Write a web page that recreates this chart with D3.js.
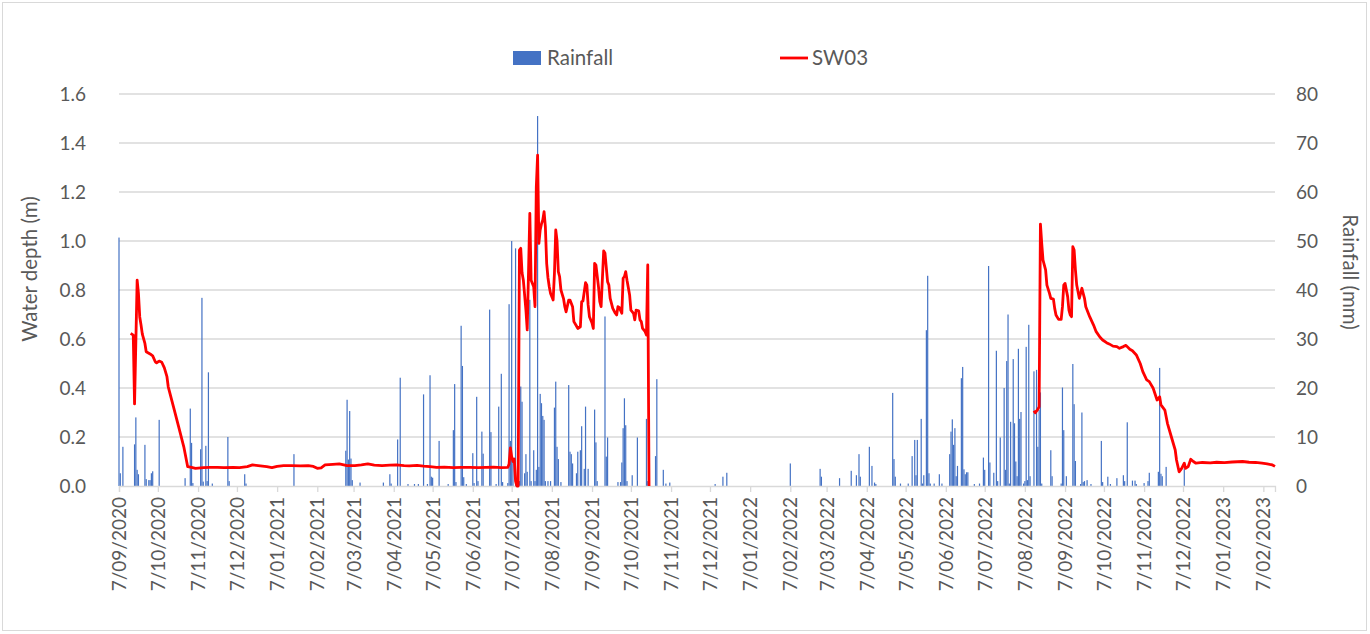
<!DOCTYPE html>
<html>
<head>
<meta charset="utf-8">
<script src="https://cdn.jsdelivr.net/npm/d3@7"></script>
<style>
  body { margin: 0; background: #fff; }
  text { font-family: Lato, "Open Sans", sans-serif; fill: #595959; }
</style>
</head>
<body>
<svg id="chart" width="1370" height="634"></svg>
<script>
// daily rainfall (mm), only days with rain
const rainfall = [
  ["2020-09-07", 50.7], ["2020-09-08", 2.6], ["2020-09-10", 8], ["2020-09-19", 8.5], ["2020-09-20", 14],
  ["2020-09-21", 3.3], ["2020-09-22", 2.4], ["2020-09-27", 8.4], ["2020-09-28", 1.4], ["2020-09-30", 1.2],
  ["2020-10-01", 1.2], ["2020-10-02", 2.6], ["2020-10-03", 3], ["2020-10-08", 13.5], ["2020-10-28", 1.6],
  ["2020-11-01", 15.8], ["2020-11-02", 8.8], ["2020-11-03", 0.6], ["2020-11-09", 7.5], ["2020-11-10", 38.4],
  ["2020-11-11", 0.9], ["2020-11-13", 8.2], ["2020-11-14", 1], ["2020-11-15", 23.2], ["2020-11-18", 0.5],
  ["2020-11-30", 10], ["2020-12-01", 1], ["2020-12-13", 2.4], ["2020-12-14", 0.5],
  ["2021-01-20", 6.5],
  ["2021-03-01", 7.2], ["2021-03-02", 17.6], ["2021-03-03", 5.4], ["2021-03-04", 15.3], ["2021-03-05", 5.6],
  ["2021-03-06", 1.2], ["2021-03-12", 0.7], ["2021-03-30", 0.7],
  ["2021-04-04", 2.4], ["2021-04-05", 0.5], ["2021-04-10", 9.5], ["2021-04-12", 22.1], ["2021-04-18", 0.4],
  ["2021-04-23", 0.4], ["2021-04-26", 0.4], ["2021-04-30", 18.7],
  ["2021-05-03", 0.4], ["2021-05-05", 22.6], ["2021-05-06", 1.9], ["2021-05-07", 1.7], ["2021-05-12", 9.2],
  ["2021-05-19", 0.4], ["2021-05-23", 11.4], ["2021-05-24", 20.8], ["2021-05-25", 0.8], ["2021-05-29", 32.7],
  ["2021-05-30", 24.5], ["2021-05-31", 1.8],
  ["2021-06-02", 0.4], ["2021-06-07", 6.7], ["2021-06-08", 0.6], ["2021-06-10", 18.2], ["2021-06-11", 1],
  ["2021-06-14", 11.1], ["2021-06-15", 6.6], ["2021-06-20", 36], ["2021-06-21", 11], ["2021-06-25", 0.4],
  ["2021-06-27", 16.2], ["2021-06-29", 22.9], ["2021-06-30", 0.8],
  ["2021-07-04", 0.6], ["2021-07-05", 37.1], ["2021-07-06", 9.2], ["2021-07-07", 50], ["2021-07-08", 5.3],
  ["2021-07-10", 48.5], ["2021-07-12", 1.9], ["2021-07-13", 1], ["2021-07-14", 20.3], ["2021-07-15", 17.2],
  ["2021-07-17", 2.6], ["2021-07-18", 6.5], ["2021-07-19", 2.9], ["2021-07-21", 38], ["2021-07-22", 1],
  ["2021-07-24", 7.3], ["2021-07-25", 1], ["2021-07-26", 3.3], ["2021-07-27", 75.5], ["2021-07-28", 3.9],
  ["2021-07-29", 18.8], ["2021-07-30", 16.9], ["2021-07-31", 14.3],
  ["2021-08-01", 13.5], ["2021-08-02", 1], ["2021-08-04", 1], ["2021-08-06", 1], ["2021-08-09", 16],
  ["2021-08-10", 21.3], ["2021-08-11", 8], ["2021-08-12", 5.5], ["2021-08-14", 0.8], ["2021-08-20", 20.6],
  ["2021-08-21", 7], ["2021-08-22", 6.5], ["2021-08-23", 4.6], ["2021-08-26", 2.6], ["2021-08-27", 7],
  ["2021-08-29", 7.3], ["2021-08-30", 12.2],
  ["2021-09-01", 3.5], ["2021-09-02", 16.2], ["2021-09-04", 3.5], ["2021-09-09", 15.6], ["2021-09-10", 8.9],
  ["2021-09-11", 1], ["2021-09-17", 34.6], ["2021-09-18", 6], ["2021-09-19", 9.9], ["2021-09-27", 0.8],
  ["2021-09-29", 0.8], ["2021-09-30", 4.8],
  ["2021-10-01", 11.8], ["2021-10-02", 17.9], ["2021-10-03", 12.4], ["2021-10-04", 1], ["2021-10-08", 2.2],
  ["2021-10-12", 9.9], ["2021-10-19", 13.7], ["2021-10-20", 1], ["2021-10-26", 6.1], ["2021-10-27", 21.8],
  ["2021-11-01", 3.3], ["2021-11-03", 0.5], ["2021-11-06", 0.7],
  ["2021-12-11", 0.4], ["2021-12-17", 1.9], ["2021-12-20", 2.7],
  ["2022-02-07", 4.6],
  ["2022-03-02", 3.5], ["2022-03-03", 1.9], ["2022-03-17", 1.6], ["2022-03-26", 3.1], ["2022-03-30", 2.2],
  ["2022-04-01", 6.5], ["2022-04-02", 1.9], ["2022-04-09", 8], ["2022-04-11", 4.1], ["2022-04-13", 0.7],
  ["2022-04-14", 0.4], ["2022-04-27", 19], ["2022-04-28", 5.5], ["2022-04-29", 1.9],
  ["2022-05-03", 0.5], ["2022-05-09", 0.5], ["2022-05-12", 6.1], ["2022-05-14", 9.4], ["2022-05-15", 2.2],
  ["2022-05-16", 9.4], ["2022-05-19", 13.7], ["2022-05-20", 0.5], ["2022-05-21", 2.2], ["2022-05-23", 31.8],
  ["2022-05-24", 42.9], ["2022-05-25", 2.6], ["2022-05-26", 0.5], ["2022-05-29", 0.5],
  ["2022-06-02", 2.4], ["2022-06-04", 0.5], ["2022-06-10", 6.5], ["2022-06-11", 11.1], ["2022-06-12", 13.6],
  ["2022-06-13", 8.4], ["2022-06-14", 11.8], ["2022-06-15", 2], ["2022-06-16", 4.1], ["2022-06-19", 22],
  ["2022-06-20", 24.3], ["2022-06-21", 3.4], ["2022-06-22", 2.4], ["2022-06-23", 2.8], ["2022-06-24", 2.8],
  ["2022-06-29", 0.4],
  ["2022-07-03", 0.5], ["2022-07-06", 5.8], ["2022-07-07", 3.3], ["2022-07-10", 44.9], ["2022-07-11", 4.8],
  ["2022-07-14", 2.7], ["2022-07-16", 27.6], ["2022-07-17", 1], ["2022-07-19", 9.9], ["2022-07-22", 20],
  ["2022-07-23", 3.3], ["2022-07-24", 25.5], ["2022-07-25", 35], ["2022-07-26", 0.5], ["2022-07-27", 13.1],
  ["2022-07-29", 25.9], ["2022-07-30", 12.8], ["2022-07-31", 5],
  ["2022-08-01", 2], ["2022-08-02", 28], ["2022-08-03", 13.7], ["2022-08-04", 15.1], ["2022-08-06", 0.5],
  ["2022-08-07", 1], ["2022-08-08", 28.4], ["2022-08-09", 1.2], ["2022-08-10", 32.9], ["2022-08-11", 2],
  ["2022-08-14", 23.4], ["2022-08-16", 23.7], ["2022-08-17", 8], ["2022-08-18", 15.5], ["2022-08-19", 19.1],
  ["2022-08-20", 0.5], ["2022-08-27", 7.3], ["2022-08-28", 2],
  ["2022-09-04", 0.5], ["2022-09-05", 20.1], ["2022-09-06", 11.4], ["2022-09-08", 2], ["2022-09-13", 24.9],
  ["2022-09-14", 16.7], ["2022-09-15", 5.1], ["2022-09-19", 0.4], ["2022-09-20", 15], ["2022-09-21", 0.8],
  ["2022-09-22", 1], ["2022-09-24", 1.2], ["2022-09-27", 0.4],
  ["2022-10-05", 9.2], ["2022-10-06", 0.8], ["2022-10-10", 1.9], ["2022-10-12", 0.4], ["2022-10-17", 1.6],
  ["2022-10-22", 2.2], ["2022-10-23", 1], ["2022-10-25", 13], ["2022-10-29", 1.1], ["2022-10-31", 1.1],
  ["2022-11-01", 0.4], ["2022-11-07", 0.6], ["2022-11-10", 1], ["2022-11-11", 2.7], ["2022-11-18", 2.9],
  ["2022-11-19", 24.1], ["2022-11-20", 2.5], ["2022-11-21", 2], ["2022-11-24", 3.9],
  ["2022-12-08", 3.6]
];

// SW03 water depth (m); null marks the logger gap
const sw03 = [
  ["2020-09-16", 0.623], ["2020-09-18", 0.616], ["2020-09-19", 0.335], ["2020-09-21", 0.84], ["2020-09-22", 0.786],
  ["2020-09-23", 0.69], ["2020-09-24", 0.657], ["2020-09-25", 0.62], ["2020-09-27", 0.582], ["2020-09-28", 0.548],
  ["2020-10-01", 0.539], ["2020-10-03", 0.531], ["2020-10-05", 0.507], ["2020-10-06", 0.503], ["2020-10-08", 0.51],
  ["2020-10-10", 0.505], ["2020-10-12", 0.482], ["2020-10-14", 0.446], ["2020-10-15", 0.405], ["2020-10-19", 0.324],
  ["2020-10-23", 0.242], ["2020-10-27", 0.16], ["2020-10-30", 0.079], ["2020-11-02", 0.076], ["2020-11-05", 0.072],
  ["2020-11-11", 0.075], ["2020-11-16", 0.076], ["2020-11-22", 0.076], ["2020-11-27", 0.075], ["2020-12-04", 0.076],
  ["2020-12-09", 0.075], ["2020-12-15", 0.079], ["2020-12-19", 0.086], ["2020-12-25", 0.082], ["2020-12-30", 0.079],
  ["2021-01-03", 0.075], ["2021-01-07", 0.08], ["2021-01-12", 0.083], ["2021-01-18", 0.083], ["2021-01-25", 0.082],
  ["2021-01-31", 0.083], ["2021-02-04", 0.08], ["2021-02-07", 0.072], ["2021-02-10", 0.074], ["2021-02-13", 0.086],
  ["2021-02-19", 0.088], ["2021-02-24", 0.09], ["2021-03-02", 0.083], ["2021-03-08", 0.083], ["2021-03-13", 0.086],
  ["2021-03-18", 0.09], ["2021-03-23", 0.085], ["2021-03-29", 0.083], ["2021-04-04", 0.085], ["2021-04-09", 0.086],
  ["2021-04-15", 0.083], ["2021-04-19", 0.082], ["2021-04-25", 0.084], ["2021-04-30", 0.081], ["2021-05-05", 0.079],
  ["2021-05-10", 0.076], ["2021-05-16", 0.077], ["2021-05-23", 0.075], ["2021-05-29", 0.076], ["2021-06-05", 0.076],
  ["2021-06-11", 0.075], ["2021-06-17", 0.076], ["2021-06-23", 0.077], ["2021-06-29", 0.075], ["2021-07-04", 0.076],
  ["2021-07-05", 0.09], ["2021-07-06", 0.156], ["2021-07-07", 0.12], ["2021-07-08", 0.1], ["2021-07-09", 0.11],
  ["2021-07-10", 0.02], ["2021-07-11", 0], ["2021-07-12", 0], ["2021-07-13", 0.963], ["2021-07-14", 0.97],
  ["2021-07-15", 0.87], ["2021-07-16", 0.84], ["2021-07-18", 0.718], ["2021-07-19", 0.637], ["2021-07-21", 1.113],
  ["2021-07-22", 0.84], ["2021-07-24", 0.813], ["2021-07-25", 0.732], ["2021-07-26", 1.22], ["2021-07-27", 1.35],
  ["2021-07-28", 0.99], ["2021-07-29", 1.045], ["2021-07-30", 1.07], ["2021-07-31", 1.086], ["2021-08-01", 1.12],
  ["2021-08-02", 1.058], ["2021-08-03", 0.909], ["2021-08-04", 0.85], ["2021-08-05", 0.813], ["2021-08-06", 0.786],
  ["2021-08-08", 0.759], ["2021-08-09", 0.868], ["2021-08-10", 1.045], ["2021-08-11", 1.0], ["2021-08-12", 0.875],
  ["2021-08-13", 0.854], ["2021-08-14", 0.8], ["2021-08-16", 0.765], ["2021-08-17", 0.732], ["2021-08-18", 0.711],
  ["2021-08-20", 0.759], ["2021-08-21", 0.759], ["2021-08-23", 0.732], ["2021-08-24", 0.671], ["2021-08-26", 0.653],
  ["2021-08-27", 0.643], ["2021-08-29", 0.65], ["2021-08-30", 0.752], ["2021-08-31", 0.755], ["2021-09-02", 0.83],
  ["2021-09-03", 0.82], ["2021-09-04", 0.739], ["2021-09-05", 0.691], ["2021-09-07", 0.665], ["2021-09-08", 0.643],
  ["2021-09-09", 0.909], ["2021-09-10", 0.902], ["2021-09-12", 0.813], ["2021-09-13", 0.752], ["2021-09-14", 0.732],
  ["2021-09-16", 0.96], ["2021-09-17", 0.95], ["2021-09-19", 0.834], ["2021-09-20", 0.82], ["2021-09-21", 0.766],
  ["2021-09-23", 0.725], ["2021-09-25", 0.705], ["2021-09-26", 0.698], ["2021-09-27", 0.732], ["2021-09-28", 0.729],
  ["2021-09-30", 0.705], ["2021-10-01", 0.848], ["2021-10-02", 0.855], ["2021-10-03", 0.875], ["2021-10-04", 0.84],
  ["2021-10-06", 0.78], ["2021-10-07", 0.718], ["2021-10-09", 0.705], ["2021-10-10", 0.678], ["2021-10-11", 0.718],
  ["2021-10-13", 0.715], ["2021-10-14", 0.678], ["2021-10-15", 0.671], ["2021-10-16", 0.643], ["2021-10-18", 0.63],
  ["2021-10-19", 0.616], ["2021-10-20", 0.902], ["2021-10-21", 0],
  ["2021-10-22", null],
  ["2022-08-14", 0.307], ["2022-08-15", 0.299], ["2022-08-17", 0.313], ["2022-08-18", 0.324], ["2022-08-19", 1.069],
  ["2022-08-20", 0.99], ["2022-08-21", 0.922], ["2022-08-23", 0.882], ["2022-08-24", 0.82], ["2022-08-26", 0.786],
  ["2022-08-27", 0.766], ["2022-08-29", 0.763], ["2022-08-30", 0.725], ["2022-08-31", 0.698], ["2022-09-02", 0.68],
  ["2022-09-04", 0.68], ["2022-09-05", 0.732], ["2022-09-06", 0.82], ["2022-09-07", 0.827], ["2022-09-09", 0.773],
  ["2022-09-10", 0.718], ["2022-09-11", 0.698], ["2022-09-12", 0.691], ["2022-09-13", 0.977], ["2022-09-14", 0.963],
  ["2022-09-15", 0.882], ["2022-09-16", 0.82], ["2022-09-18", 0.766], ["2022-09-19", 0.786], ["2022-09-20", 0.807],
  ["2022-09-22", 0.766], ["2022-09-23", 0.732], ["2022-09-26", 0.691], ["2022-09-29", 0.657], ["2022-10-01", 0.63],
  ["2022-10-04", 0.607], ["2022-10-06", 0.596], ["2022-10-09", 0.585], ["2022-10-11", 0.58], ["2022-10-14", 0.571],
  ["2022-10-17", 0.569], ["2022-10-19", 0.562], ["2022-10-22", 0.569], ["2022-10-24", 0.574], ["2022-10-27", 0.558],
  ["2022-10-29", 0.552], ["2022-11-01", 0.535], ["2022-11-04", 0.5], ["2022-11-06", 0.467], ["2022-11-09", 0.433],
  ["2022-11-11", 0.426], ["2022-11-14", 0.399], ["2022-11-17", 0.351], ["2022-11-19", 0.364], ["2022-11-20", 0.331],
  ["2022-11-23", 0.31], ["2022-11-25", 0.256], ["2022-11-28", 0.201], ["2022-12-01", 0.147], ["2022-12-02", 0.106],
  ["2022-12-04", 0.058], ["2022-12-06", 0.072], ["2022-12-08", 0.093], ["2022-12-09", 0.072], ["2022-12-11", 0.079],
  ["2022-12-13", 0.109], ["2022-12-15", 0.1], ["2022-12-17", 0.093], ["2022-12-22", 0.096], ["2022-12-28", 0.094],
  ["2023-01-02", 0.097], ["2023-01-08", 0.095], ["2023-01-14", 0.098], ["2023-01-22", 0.1], ["2023-01-27", 0.097],
  ["2023-02-01", 0.096], ["2023-02-06", 0.093], ["2023-02-10", 0.09], ["2023-02-14", 0.086], ["2023-02-16", 0.08]
];

const depthTicks = [0, 0.2, 0.4, 0.6, 0.8, 1.0, 1.2, 1.4, 1.6];
const rainTicks = [0, 10, 20, 30, 40, 50, 60, 70, 80];
const dateRange = ["2020-09-07", "2023-02-16"];
const seriesNames = ["Rainfall", "SW03"];
const axisTitles = ["Water depth (m)", "Rainfall (mm)"];

const parse = d3.utcParse("%Y-%m-%d");
const plotLeft = 119, plotRight = 1275, plotTop = 94, plotBottom = 486;
const fontSize = 19;
const titleSize = 20.5;

const svg = d3.select("#chart");

// chart area border
svg.append("rect")
  .attr("x", 2.5).attr("y", 2.5).attr("width", 1364).attr("height", 628)
  .attr("fill", "#fff").attr("stroke", "#d9d9d9");

const x = d3.scaleUtc().domain(dateRange.map(parse)).range([plotLeft, plotRight]);
const yL = d3.scaleLinear().domain([0, 1.6]).range([plotBottom, plotTop]);
const yR = d3.scaleLinear().domain([0, 80]).range([plotBottom, plotTop]);

// ticks on the 7th of every month
const monthTicks = d3.utcMonth.range(parse("2020-09-01"), parse("2023-02-02"))
  .map(d => d3.utcDay.offset(d, 6));

// gridlines
svg.append("g")
  .selectAll("line")
  .data(depthTicks.slice(1))
  .join("line")
  .attr("x1", plotLeft).attr("x2", plotRight)
  .attr("y1", d => yL(d)).attr("y2", d => yL(d))
  .attr("stroke", "#d9d9d9").attr("stroke-width", 1.3);

// rainfall bars
svg.append("g")
  .selectAll("rect")
  .data(rainfall)
  .join("rect")
  .attr("x", d => x(parse(d[0])) - 0.6)
  .attr("width", 1.2)
  .attr("y", d => yR(d[1]))
  .attr("height", d => plotBottom - yR(d[1]))
  .attr("fill", "#4472C4");

// x axis
const xAxis = svg.append("g")
  .attr("transform", `translate(0,${plotBottom})`)
  .call(d3.axisBottom(x).tickValues(monthTicks).tickSize(6).tickFormat(d3.utcFormat("%-d/%m/%Y")));
xAxis.select(".domain").attr("stroke", "#d9d9d9").attr("stroke-width", 1.3);
xAxis.selectAll(".tick line").attr("stroke", "#d9d9d9").attr("stroke-width", 1.3);
xAxis.selectAll(".tick text")
  .attr("transform", "rotate(-90)")
  .attr("x", -11).attr("y", 0).attr("dy", "0.35em")
  .style("text-anchor", "end")
  .style("font-size", fontSize + "px")
  .attr("fill", "#595959");

// left axis
const yAxisL = svg.append("g")
  .attr("transform", `translate(${plotLeft},0)`)
  .call(d3.axisLeft(yL).tickValues(depthTicks).tickSize(0).tickPadding(33).tickFormat(d3.format(".1f")));
yAxisL.select(".domain").remove();
yAxisL.selectAll("text").style("font-size", fontSize + "px").attr("fill", "#595959");

// right axis
const yAxisR = svg.append("g")
  .attr("transform", `translate(${plotRight},0)`)
  .call(d3.axisRight(yR).tickValues(rainTicks).tickSize(0).tickPadding(21));
yAxisR.select(".domain").remove();
yAxisR.selectAll("text").style("font-size", fontSize + "px").attr("fill", "#595959");

// SW03 line
const line = d3.line()
  .defined(d => d[1] !== null)
  .x(d => x(parse(d[0])))
  .y(d => yL(d[1]));

svg.append("path")
  .datum(sw03)
  .attr("d", line)
  .attr("fill", "none")
  .attr("stroke", "#FF0000")
  .attr("stroke-width", 2.8)
  .attr("stroke-linejoin", "round");

// axis titles
svg.append("text")
  .attr("transform", "translate(30,269) rotate(-90)")
  .attr("text-anchor", "middle").attr("dy", "0.35em")
  .style("font-size", titleSize + "px")
  .text(axisTitles[0]);
svg.append("text")
  .attr("transform", "translate(1350,272) rotate(90)")
  .attr("text-anchor", "middle").attr("dy", "0.35em")
  .style("font-size", titleSize + "px")
  .text(axisTitles[1]);

// legend
const legend = svg.append("g");
legend.append("rect")
  .attr("x", 513).attr("y", 51).attr("width", 28).attr("height", 14)
  .attr("fill", "#4472C4");
legend.append("text")
  .attr("x", 547).attr("y", 65)
  .style("font-size", titleSize + "px")
  .text(seriesNames[0]);
legend.append("line")
  .attr("x1", 780).attr("x2", 808).attr("y1", 58).attr("y2", 58)
  .attr("stroke", "#FF0000").attr("stroke-width", 2.8);
legend.append("text")
  .attr("x", 812).attr("y", 65)
  .style("font-size", titleSize + "px")
  .text(seriesNames[1]);
</script>
</body>
</html>
